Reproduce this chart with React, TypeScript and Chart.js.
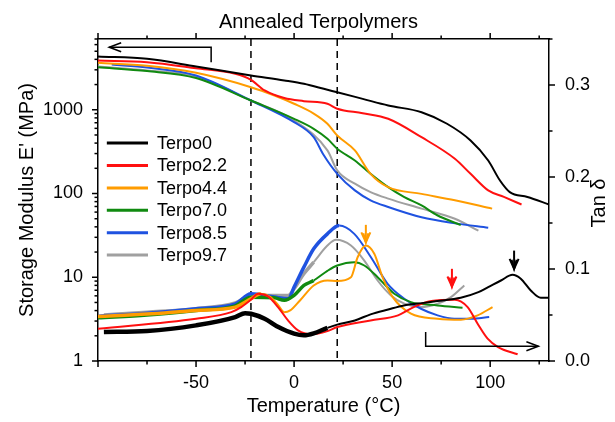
import React, { useEffect, useRef } from "react";
import { Chart, registerables } from "chart.js";

Chart.register(...registerables);

const FONT = "'Liberation Sans', Arial, Helvetica, sans-serif";

// ---------- series names / colours ----------
const seriesNames = ["Terpo0", "Terpo2.2", "Terpo4.4", "Terpo7.0", "Terpo8.5", "Terpo9.7"];
const seriesColors = ["#000000", "#ff1010", "#ff9c00", "#108a10", "#1f52e0", "#a0a0a0"];

// ---------- storage modulus E' (MPa), left log axis ----------
const eT0 = [-100, -75, -50, -22, -5, 5, 17, 22, 35, 48, 65, 78, 90, 99, 105, 110, 119, 130];
const eV0 = [4330, 4060, 3290, 2570, 2240, 2040, 1730, 1620, 1350, 1125, 936, 681, 430, 248, 143, 104, 91, 74];

const eT1 = [-100, -75, -50, -30, -22, -15, -5, 5, 17, 22, 35, 48, 65, 82, 90, 99, 107, 116];
const eV1 = [3870, 3700, 3140, 2690, 2280, 1700, 1380, 1267, 1180, 1030, 910, 780, 470, 260, 172, 109, 91, 74];

const eT2 = [-100, -75, -50, -22, -10, 0, 10, 17, 22, 31, 39, 48, 65, 82, 101];
const eV2 = [3640, 3350, 2760, 1860, 1480, 1180, 900, 680, 493, 327, 172, 119, 99, 83, 66];

const eT3 = [-100, -75, -50, -22, 0, 10, 17, 22, 31, 39, 48, 56, 65, 73, 85];
const eV3 = [3220, 2900, 2400, 1290, 780, 593, 451, 343, 248, 172, 119, 91, 72, 55, 42];

const eT4 = [-93, -75, -50, -22, 0, 10, 15, 22, 31, 39, 48, 65, 82, 99];
const eV4 = [3470, 3200, 2570, 1290, 711, 471, 290, 172, 109, 83, 69, 52, 44, 39];

const eT5 = [-100, -75, -50, -22, 0, 17, 22, 31, 39, 48, 65, 82, 94];
const eV5 = [3280, 2950, 2500, 1290, 745, 327, 189, 131, 104, 87, 66, 50, 36];

// ---------- tan delta, right axis ----------
const dT0 = [-97, -75, -50, -30, -25, -22, -15, -8, 0, 5, 10, 17, 22, 31, 39, 48, 56, 65, 73, 85, 94, 99, 105.5, 111.4, 115.6, 120.7, 125.8, 131];
const dV0 = [0.0315, 0.0325, 0.0387, 0.0477, 0.052, 0.0514, 0.046, 0.0369, 0.0297, 0.0279, 0.030, 0.036, 0.0395, 0.0441, 0.0507, 0.056, 0.0604, 0.0629, 0.0651, 0.0687, 0.0748, 0.0803, 0.0875, 0.0937, 0.0894, 0.0767, 0.0687, 0.0687];

const dT1 = [-100, -50, -32, -27, -22, -18.4, -13.3, -8.2, -3.1, 2, 8.8, 17, 22, 39, 53, 61, 70, 82, 88.5, 93.6, 98.7, 104, 114];
const dV1 = [0.0351, 0.046, 0.0531, 0.0586, 0.0666, 0.0731, 0.0702, 0.0586, 0.0441, 0.0333, 0.029, 0.0325, 0.0369, 0.0441, 0.0496, 0.0586, 0.0651, 0.0666, 0.0586, 0.0405, 0.0243, 0.0152, 0.0073];

const dT2 = [-100, -75, -50, -30, -22, -17, -12, -8, -5, -2, 3, 10, 17, 22, 29, 32.4, 36.6, 40.9, 45.1, 50.3, 59.6, 73.2, 85.1, 93.6, 101.2];
const dV2 = [0.0485, 0.051, 0.055, 0.0586, 0.0677, 0.0731, 0.0695, 0.0604, 0.0531, 0.055, 0.0658, 0.0821, 0.0875, 0.087, 0.0911, 0.1128, 0.1255, 0.1165, 0.0911, 0.0694, 0.0514, 0.046, 0.0449, 0.0496, 0.0586];

const dT3 = [-100, -75, -50, -30, -22, -10, -5, 0, 5, 10, 17, 22, 30.7, 35.8, 42.6, 51.1, 59.6, 73.2, 85.9];
const dV3 = [0.047, 0.050, 0.055, 0.060, 0.0694, 0.0687, 0.066, 0.0713, 0.0821, 0.0875, 0.098, 0.1038, 0.1074, 0.1038, 0.0911, 0.0731, 0.064, 0.0604, 0.0579];

const dT4 = [-100, -75, -50, -30, -22, -10, -3, 0, 5, 10, 17, 23, 30.7, 39.2, 47.7, 56.2, 64.7, 73.2, 81.7, 90.2, 99.5];
const dV4 = [0.0485, 0.052, 0.0568, 0.062, 0.0731, 0.0695, 0.0677, 0.0803, 0.102, 0.1219, 0.1382, 0.1472, 0.1382, 0.1128, 0.0839, 0.0677, 0.0568, 0.0496, 0.046, 0.046, 0.0477];

const dT5 = [-97, -75, -50, -30, -22, -10, -3, 0, 5, 10, 17, 21.4, 29, 35.8, 42.6, 49.4, 56.2, 64.7, 73.2, 80, 86.8];
const dV5 = [0.05, 0.053, 0.0568, 0.063, 0.0713, 0.0713, 0.0713, 0.0785, 0.0948, 0.1074, 0.1255, 0.1317, 0.1255, 0.1092, 0.0875, 0.0713, 0.0623, 0.0586, 0.0623, 0.0694, 0.0821];

// noisy (low-temperature) region limits for tan delta traces
const noisyUpTo = [15, -100, -20, 10, 18, 10];

// ---------- axes ----------
const xTickValues = [-100, -75, -50, -25, 0, 25, 50, 75, 100, 125];
const xLabelValues = [-50, 0, 50, 100];
const yMajor = [1, 10, 100, 1000];
const y2TickValues = [0, 0.05, 0.1, 0.15, 0.2, 0.25, 0.3, 0.35];
const y2LabelValues = [0, 0.1, 0.2, 0.3];

// ---------- annotations (data coordinates) ----------
const dashedTemps = [-22, 22];
const leftArrow = { x: -42.3, yLow: 3700, yHigh: 5590, tipX: -94.3 }; // on E' axis
const rightArrow = { x: 67.1, yHigh: 0.0315, yLow: 0.016, tipX: 124.6 }; // on tan delta axis
const peakArrows = [
  { x: 36.6, yTop: 0.148, yTip: 0.129, color: "#ff9c00" },
  { x: 80.5, yTop: 0.1002, yTip: 0.081, color: "#ff1010" },
  { x: 112.2, yTop: 0.12, yTip: 0.1002, color: "#000000" },
];

const eSeriesT = [eT0, eT1, eT2, eT3, eT4, eT5];
const eSeriesV = [eV0, eV1, eV2, eV3, eV4, eV5];
const dSeriesT = [dT0, dT1, dT2, dT3, dT4, dT5];
const dSeriesV = [dV0, dV1, dV2, dV3, dV4, dV5];

const toPts = (xs: number[], ys: number[]) => xs.map((x, i) => ({ x, y: ys[i] }));

function drawArrowHead(ctx: CanvasRenderingContext2D, tx: number, ty: number, dx: number, dy: number, len: number, half: number) {
  const bx = tx - dx * len;
  const by = ty - dy * len;
  const nx = -dy;
  const ny = dx;
  ctx.beginPath();
  ctx.moveTo(bx + nx * half, by + ny * half);
  ctx.lineTo(tx, ty);
  ctx.lineTo(bx - nx * half, by - ny * half);
  ctx.stroke();
}

const annotPlugin = {
  id: "annot",
  beforeDatasetsDraw(chart: any) {
    const { ctx, chartArea, scales } = chart;
    ctx.save();
    ctx.strokeStyle = "#000";
    ctx.lineWidth = 1.5;
    ctx.setLineDash([7, 5]);
    for (const t of dashedTemps) {
      const px = scales.x.getPixelForValue(t);
      ctx.beginPath();
      ctx.moveTo(px, chartArea.top);
      ctx.lineTo(px, chartArea.bottom);
      ctx.stroke();
    }
    ctx.restore();
  },
  afterDraw(chart: any) {
    const { ctx, chartArea, scales } = chart;
    const x = scales.x;
    const y = scales.y;
    const y2 = scales.y2;
    ctx.save();
    ctx.strokeStyle = "#000";
    ctx.lineWidth = 1.5;
    ctx.setLineDash([]);
    // tick marks (outward)
    for (const v of xTickValues) {
      const px = x.getPixelForValue(v);
      const len = v % 50 === 0 ? 6 : 3.5;
      ctx.beginPath();
      ctx.moveTo(px, chartArea.bottom);
      ctx.lineTo(px, chartArea.bottom + len);
      ctx.moveTo(px, chartArea.top);
      ctx.lineTo(px, chartArea.top - len);
      ctx.stroke();
    }
    for (const d of yMajor) {
      for (let m = 1; m <= 9; m++) {
        const v = d * m;
        if (v > y.max) break;
        const py = y.getPixelForValue(v);
        const len = m === 1 ? 6 : 3.5;
        ctx.beginPath();
        ctx.moveTo(chartArea.left, py);
        ctx.lineTo(chartArea.left - len, py);
        ctx.stroke();
      }
    }
    for (const v of y2TickValues) {
      const py = y2.getPixelForValue(v);
      const major = y2LabelValues.some((l) => Math.abs(l - v) < 1e-9);
      const len = major ? 6 : 3.5;
      ctx.beginPath();
      ctx.moveTo(chartArea.right, py);
      ctx.lineTo(chartArea.right + len, py);
      ctx.stroke();
    }

    // left arrow (E' axis)
    {
      const ax = x.getPixelForValue(leftArrow.x);
      const ay1 = y.getPixelForValue(leftArrow.yLow);
      const ay2 = y.getPixelForValue(leftArrow.yHigh);
      const tx = x.getPixelForValue(leftArrow.tipX);
      ctx.lineWidth = 1.5;
      ctx.beginPath();
      ctx.moveTo(ax, ay1);
      ctx.lineTo(ax, ay2);
      ctx.lineTo(tx, ay2);
      ctx.stroke();
      drawArrowHead(ctx, tx, ay2, -1, 0, 12, 4.5);
    }
    // right arrow (tan delta axis)
    {
      const ax = x.getPixelForValue(rightArrow.x);
      const ay1 = y2.getPixelForValue(rightArrow.yHigh);
      const ay2 = y2.getPixelForValue(rightArrow.yLow);
      const tx = x.getPixelForValue(rightArrow.tipX);
      ctx.beginPath();
      ctx.moveTo(ax, ay1);
      ctx.lineTo(ax, ay2);
      ctx.lineTo(tx, ay2);
      ctx.stroke();
      drawArrowHead(ctx, tx, ay2, 1, 0, 12, 4.5);
    }
    // peak arrows
    for (const a of peakArrows) {
      const ax = x.getPixelForValue(a.x);
      const top = y2.getPixelForValue(a.yTop);
      const tip = y2.getPixelForValue(a.yTip);
      ctx.strokeStyle = a.color;
      ctx.lineWidth = 2;
      ctx.beginPath();
      ctx.moveTo(ax, top);
      ctx.lineTo(ax, tip);
      ctx.stroke();
      drawArrowHead(ctx, ax, tip, 0, 1, 10, 4.5);
      drawArrowHead(ctx, ax, tip, 0, 1, 9, 2.5);
    }

    // legend
    ctx.font = `18px ${FONT}`;
    ctx.textBaseline = "middle";
    ctx.textAlign = "left";
    ctx.fillStyle = "#000";
    const lx0 = x.getPixelForValue(-95.5);
    const lx1 = x.getPixelForValue(-74.5);
    const ly0 = y.getPixelForValue(400);
    const step = 22.4;
    seriesNames.forEach((name, i) => {
      const ly = ly0 + i * step;
      ctx.strokeStyle = seriesColors[i];
      ctx.lineWidth = 3;
      ctx.beginPath();
      ctx.moveTo(lx0, ly);
      ctx.lineTo(lx1, ly);
      ctx.stroke();
      ctx.fillText(name, lx1 + 9, ly + 1);
    });

    // title
    ctx.font = `20px ${FONT}`;
    ctx.textAlign = "center";
    ctx.fillText("Annealed Terpolymers", (chartArea.left + chartArea.right) / 2 - 5, 22);

    // right axis title (reads bottom-to-top)
    ctx.save();
    ctx.translate(chartArea.right + 50, (chartArea.top + chartArea.bottom) / 2 + 3);
    ctx.rotate(-Math.PI / 2);
    ctx.textAlign = "center";
    ctx.textBaseline = "middle";
    ctx.fillText("Tan δ", 0, 0);
    ctx.restore();

    ctx.restore();
  },
};

export default function App() {
  const ref = useRef<HTMLCanvasElement>(null);
  useEffect(() => {
    const datasets: any[] = [];
    seriesNames.forEach((name, i) => {
      datasets.push({
        label: name,
        data: toPts(eSeriesT[i], eSeriesV[i]),
        yAxisID: "y",
        borderColor: seriesColors[i],
        borderWidth: 2,
        pointRadius: 0,
        cubicInterpolationMode: "monotone",
        fill: false,
      });
    });
    seriesNames.forEach((name, i) => {
      const lim = noisyUpTo[i];
      datasets.push({
        label: name + " tan δ",
        data: toPts(dSeriesT[i], dSeriesV[i]),
        yAxisID: "y2",
        borderColor: seriesColors[i],
        borderWidth: 2,
        pointRadius: 0,
        cubicInterpolationMode: "monotone",
        fill: false,
        segment: {
          borderWidth: (c: any) => (c.p0.parsed.x < lim ? (i === 0 ? 4.5 : 3.5) : 2),
        },
      });
    });

    const tickFont = { family: FONT, size: 18 };
    const titleFont = { family: FONT, size: 20 };

    const chart = new Chart(ref.current as HTMLCanvasElement, {
      type: "line",
      data: { datasets },
      plugins: [annotPlugin],
      options: {
        responsive: false,
        animation: false,
        layout: { padding: 0 },
        plugins: { legend: { display: false }, tooltip: { enabled: false }, title: { display: false } },
        scales: {
          x: {
            type: "linear",
            position: "bottom",
            min: -100,
            max: 130,
            afterBuildTicks: (s: any) => {
              s.ticks = xTickValues.map((v) => ({ value: v }));
            },
            afterFit: (s: any) => {
              s.height = 61;
            },
            ticks: {
              autoSkip: false,
              maxRotation: 0,
              color: "#000",
              font: tickFont,
              padding: 3,
              callback: (v: any) => (xLabelValues.includes(Number(v)) ? String(v) : ""),
            },
            grid: { display: false },
            border: { display: true, color: "#000", width: 1.5 },
            title: { display: true, text: "Temperature (°C)", color: "#000", font: titleFont, padding: { top: 0, bottom: 4 } },
          },
          x2: {
            type: "linear",
            position: "top",
            min: -100,
            max: 130,
            afterFit: (s: any) => {
              s.height = 39;
            },
            ticks: { display: false },
            grid: { display: false },
            border: { display: true, color: "#000", width: 1.5 },
          },
          y: {
            type: "logarithmic",
            position: "left",
            min: 1,
            max: 7000,
            afterBuildTicks: (s: any) => {
              s.ticks = yMajor.map((v) => ({ value: v }));
            },
            afterFit: (s: any) => {
              s.width = 98;
            },
            ticks: {
              color: "#000",
              font: tickFont,
              padding: 7,
              callback: (v: any) => String(v),
            },
            grid: { display: false },
            border: { display: true, color: "#000", width: 1.5 },
            title: { display: true, text: "Storage Modulus E' (MPa)", color: "#000", font: titleFont, padding: { top: 15, bottom: 0 } },
          },
          y2: {
            type: "linear",
            position: "right",
            min: 0,
            max: 0.35,
            afterBuildTicks: (s: any) => {
              s.ticks = y2LabelValues.map((v) => ({ value: v }));
            },
            afterFit: (s: any) => {
              s.width = 66;
            },
            ticks: {
              color: "#000",
              font: tickFont,
              padding: 8,
              callback: (v: any) => Number(v).toFixed(1),
            },
            grid: { display: false },
            border: { display: true, color: "#000", width: 1.5 },
            title: { display: false },
          },
        },
      } as any,
    });
    return () => chart.destroy();
  }, []);

  return (
    <div style={{ position: "fixed", left: 0, top: 0, width: 615, height: 422, background: "#fff" }}>
      <canvas ref={ref} width={615} height={422} style={{ width: 615, height: 422, display: "block" }} />
    </div>
  );
}
